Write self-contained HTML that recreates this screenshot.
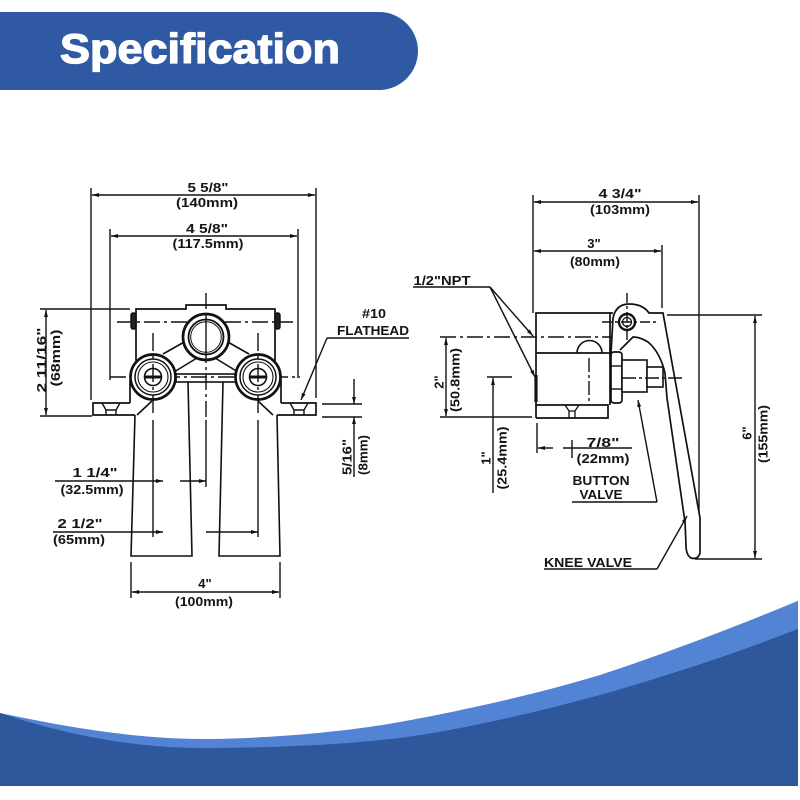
<!DOCTYPE html>
<html><head><meta charset="utf-8"><style>
html,body{margin:0;padding:0;background:#fff;}
svg{display:block;}
text{font-family:"Liberation Sans",Arial,sans-serif;font-weight:bold;fill:#141414;}
</style></head><body>
<svg width="800" height="800" viewBox="0 0 800 800" xmlns="http://www.w3.org/2000/svg">
<defs>
<marker id="a" viewBox="0 0 10 10" refX="10" refY="5" markerWidth="7" markerHeight="7" orient="auto-start-reverse" markerUnits="userSpaceOnUse"><path d="M0,2.2 L10,5 L0,7.8z" fill="#111"/></marker>
</defs>
<rect width="800" height="800" fill="#fff"/>

<!-- Header -->
<path d="M0,12 H379 A39,39 0 0 1 379,90 H0 Z" fill="#2f59a2"/>
<text x="60" y="63" font-size="42" textLength="280" lengthAdjust="spacingAndGlyphs" style="fill:#fff;stroke:#fff;stroke-width:1.3">Specification</text>

<!-- Bottom wave -->
<path d="M0,713 C70,728 140,739 200,739 C260,739 340,733 400,722 C460,711 530,696 600,675 C670,652 740,625 800,600 L800,786 L0,786 Z" fill="#5283d5"/>
<path d="M0,713 C60,733 130,748 200,748 C270,748 340,745 400,738 C460,730 530,714 600,695 C670,675 740,652 800,628 L800,786 L0,786 Z" fill="#2f579c"/>
<rect x="798" y="590" width="2" height="210" fill="#fff"/>

<!-- LEFT DRAWING -->
<g stroke="#111" fill="none" stroke-width="1.4">
  <!-- 5 5/8 -->
  <line x1="91" y1="188" x2="91" y2="400"/>
  <line x1="316" y1="188" x2="316" y2="398"/>
  <line x1="92" y1="195" x2="315" y2="195" marker-start="url(#a)" marker-end="url(#a)"/>
  <!-- 4 5/8 -->
  <line x1="110" y1="229" x2="110" y2="380"/>
  <line x1="298" y1="229" x2="298" y2="378"/>
  <line x1="111" y1="236" x2="297" y2="236" marker-start="url(#a)" marker-end="url(#a)"/>
  <!-- 2 11/16 -->
  <line x1="40" y1="309" x2="130" y2="309"/>
  <line x1="40" y1="416" x2="92" y2="416"/>
  <line x1="46" y1="310" x2="46" y2="415" marker-start="url(#a)" marker-end="url(#a)"/>

  <!-- body top -->
  <path d="M136,362 V309 H186 V305 H226 V309 H275 V362" stroke-width="1.7"/>
  <line x1="117" y1="322" x2="293" y2="322" stroke-dasharray="16 4 3 4"/>
  <line x1="206" y1="293" x2="206" y2="420" stroke-dasharray="16 4 3 4"/>
  <line x1="206" y1="420" x2="206" y2="487"/>

  <!-- webs -->
  <line x1="163" y1="354" x2="186" y2="341" stroke-width="1.6"/>
  <line x1="249" y1="354" x2="226" y2="341" stroke-width="1.6"/>
  <line x1="174" y1="372" x2="197" y2="358" stroke-width="1.6"/>
  <line x1="238" y1="372" x2="215" y2="358" stroke-width="1.6"/>
  <rect x="176" y="374" width="60" height="8" stroke-width="1.6"/>

  <!-- dash-dot across lower circles -->
  <line x1="110" y1="377" x2="300" y2="377" stroke-dasharray="16 4 3 4"/>

  <!-- lower body & base -->
  <line x1="130" y1="380" x2="130" y2="403" stroke-width="1.7"/>
  <line x1="281" y1="380" x2="281" y2="403" stroke-width="1.7"/>
  <path d="M130,403 H93 V415 H135" stroke-width="1.7"/>
  <path d="M281,403 H316 V415 H277" stroke-width="1.7"/>
  <line x1="152" y1="401" x2="137" y2="415" stroke-width="1.6"/>
  <line x1="258" y1="401" x2="273" y2="415" stroke-width="1.6"/>
  <path d="M102,403 L106,410 H116 L120,403 M106,410 V415 M116,410 V415" stroke-width="1.4"/>
  <path d="M290,403 L294,410 H304 L308,403 M294,410 V415 M304,410 V415" stroke-width="1.4"/>

  <!-- legs -->
  <path d="M135,415 L131,556 H192 L188,382" stroke-width="1.6"/>
  <path d="M223,382 L219,556 H280 L277,415" stroke-width="1.6"/>
</g>

<!-- circles -->
<g stroke="#111" fill="#fff">
  <circle cx="206" cy="337" r="23" stroke-width="2.7"/>
  <circle cx="206" cy="337" r="17.5" stroke-width="1.8"/>
  <circle cx="206" cy="337" r="15.3" stroke-width="1"/>
  <circle cx="153" cy="377" r="22.5" stroke-width="2.7"/>
  <circle cx="153" cy="377" r="18" stroke-width="1.5"/>
  <circle cx="153" cy="377" r="15" stroke-width="1.1"/>
  <circle cx="153" cy="377" r="8.5" stroke-width="1.6"/>
  <circle cx="258" cy="377" r="22.5" stroke-width="2.7"/>
  <circle cx="258" cy="377" r="18" stroke-width="1.5"/>
  <circle cx="258" cy="377" r="15" stroke-width="1.1"/>
  <circle cx="258" cy="377" r="8.5" stroke-width="1.6"/>
</g>
<g stroke="#111" fill="none" stroke-width="1.4">
  <line x1="206" y1="314" x2="206" y2="360"/>
  <line x1="145" y1="377" x2="162" y2="377" stroke-width="3"/>
  <line x1="250" y1="377" x2="267" y2="377" stroke-width="3"/>
  <line x1="153" y1="333" x2="153" y2="418" stroke-dasharray="18 5 3 5"/>
  <line x1="153" y1="420" x2="153" y2="537"/>
  <line x1="258" y1="333" x2="258" y2="418" stroke-dasharray="18 5 3 5"/>
  <line x1="258" y1="420" x2="258" y2="537"/>
  <!-- screw heads -->
  <rect x="131" y="313" width="5" height="16" rx="2" fill="#222"/>
  <rect x="275" y="313" width="5" height="16" rx="2" fill="#222"/>

  <!-- 1 1/4 -->
  <line x1="55" y1="481" x2="163" y2="481" marker-end="url(#a)"/>
  <line x1="180" y1="481" x2="206" y2="481" marker-end="url(#a)"/>
  <!-- 2 1/2 -->
  <line x1="53" y1="532" x2="163" y2="532" marker-end="url(#a)"/>
  <line x1="206" y1="532" x2="258" y2="532" marker-end="url(#a)"/>
  <!-- 4" -->
  <line x1="131" y1="562" x2="131" y2="598"/>
  <line x1="280" y1="562" x2="280" y2="598"/>
  <line x1="132" y1="592" x2="279" y2="592" marker-start="url(#a)" marker-end="url(#a)"/>
  <!-- flathead leader -->
  <line x1="327" y1="338" x2="409" y2="338"/>
  <line x1="327" y1="338" x2="301" y2="400" marker-end="url(#a)"/>
  <!-- 5/16 -->
  <line x1="322" y1="404" x2="362" y2="404"/>
  <line x1="322" y1="417" x2="362" y2="417"/>
  <line x1="354" y1="379" x2="354" y2="404" marker-end="url(#a)"/>
  <line x1="354" y1="477" x2="354" y2="417" marker-end="url(#a)"/>
</g>

<!-- left texts -->
<g font-size="13" text-anchor="middle">
  <text x="208" y="192" textLength="41" lengthAdjust="spacingAndGlyphs">5 5/8"</text>
  <text x="207" y="207" textLength="62" lengthAdjust="spacingAndGlyphs">(140mm)</text>
  <text x="207" y="233" textLength="42" lengthAdjust="spacingAndGlyphs">4 5/8"</text>
  <text x="208" y="248" textLength="71" lengthAdjust="spacingAndGlyphs">(117.5mm)</text>
  <text transform="translate(41.5,360) rotate(-90)" dy="0.35em" textLength="65" lengthAdjust="spacingAndGlyphs">2 11/16"</text>
  <text transform="translate(55.5,358) rotate(-90)" dy="0.35em" textLength="57" lengthAdjust="spacingAndGlyphs">(68mm)</text>
  <text x="374" y="318" textLength="24" lengthAdjust="spacingAndGlyphs">#10</text>
  <text x="373" y="335" textLength="72" lengthAdjust="spacingAndGlyphs">FLATHEAD</text>
  <text transform="translate(347,457) rotate(-90)" dy="0.35em" textLength="36" lengthAdjust="spacingAndGlyphs">5/16"</text>
  <text transform="translate(363,455) rotate(-90)" dy="0.35em" textLength="40" lengthAdjust="spacingAndGlyphs">(8mm)</text>
  <text x="95" y="477" textLength="45" lengthAdjust="spacingAndGlyphs">1 1/4"</text>
  <text x="92" y="494" textLength="63" lengthAdjust="spacingAndGlyphs">(32.5mm)</text>
  <text x="80" y="528" textLength="45" lengthAdjust="spacingAndGlyphs">2 1/2"</text>
  <text x="79" y="544" textLength="52" lengthAdjust="spacingAndGlyphs">(65mm)</text>
  <text x="205" y="588">4"</text>
  <text x="204" y="606" textLength="58" lengthAdjust="spacingAndGlyphs">(100mm)</text>
</g>

<!-- RIGHT DRAWING -->
<g stroke="#111" fill="none" stroke-width="1.4">
  <!-- 4 3/4 -->
  <line x1="533" y1="195" x2="533" y2="313"/>
  <line x1="699" y1="195" x2="699" y2="517"/>
  <line x1="534" y1="202" x2="698" y2="202" marker-start="url(#a)" marker-end="url(#a)"/>
  <!-- 3" -->
  <line x1="662" y1="245" x2="662" y2="308"/>
  <line x1="534" y1="251" x2="661" y2="251" marker-start="url(#a)" marker-end="url(#a)"/>
  <!-- NPT leader -->
  <line x1="413" y1="287" x2="490" y2="287"/>
  <line x1="490" y1="287" x2="533" y2="336" marker-end="url(#a)"/>
  <line x1="490" y1="287" x2="535" y2="377" marker-end="url(#a)"/>

  <!-- body -->
  <path d="M536,418 V313 H613 M610,313 V405" stroke-width="1.7"/>
  <line x1="536" y1="353" x2="610" y2="353" stroke-width="1.7"/>
  <path d="M536,405 H608 V418 H536" stroke-width="1.7"/>
  <path d="M577,353 A12.5,12.5 0 0 1 602,353" stroke-width="1.6"/>
  <path d="M565,405 L569,411 H575 L579,405 M569,411 V418 M575,411 V418" stroke-width="1.3"/>
  <line x1="440" y1="337" x2="613" y2="337" stroke-dasharray="16 4 3 4"/>
  <line x1="589" y1="358" x2="589" y2="403" stroke-dasharray="14 3 3 3"/>
  <line x1="536" y1="375" x2="536" y2="402" stroke-width="3.2"/>

  <!-- lever -->
  <path d="M611,353 L613,318 Q616,304 629,304 Q643,304 649,313 L663,313 L700,518 L700,553 Q698,560 691,558 Q686,555 686,545 L685,522 L667,398 L665,373 Q660,352 648,342 Q640,337 633,337 L620,350" stroke-width="1.7" fill="#fff"/>
  <circle cx="627" cy="322" r="8" stroke-width="2.4" fill="#fff"/>
  <circle cx="627" cy="322" r="4.5" stroke-width="1.3"/>
  <line x1="602" y1="322" x2="657" y2="322" stroke-dasharray="10 3 3 3"/>
  <line x1="627" y1="293" x2="627" y2="340" stroke-dasharray="10 3 3 3"/>

  <!-- nut & shaft -->
  <rect x="611" y="352" width="11" height="51" rx="3" stroke-width="1.7" fill="#fff"/>
  <line x1="611" y1="366" x2="622" y2="366"/>
  <line x1="611" y1="389" x2="622" y2="389"/>
  <rect x="622" y="360" width="25" height="32" stroke-width="1.6" fill="#fff"/>
  <rect x="647" y="367" width="16" height="20" stroke-width="1.6" fill="#fff"/>
  <line x1="622" y1="378" x2="683" y2="378" stroke-dasharray="14 3 3 3"/>

  <!-- 2" -->
  <line x1="440" y1="417" x2="532" y2="417"/>
  <line x1="446" y1="338" x2="446" y2="416" marker-start="url(#a)" marker-end="url(#a)"/>
  <!-- 1" -->
  <line x1="487" y1="377" x2="512" y2="377"/>
  <line x1="493" y1="378" x2="493" y2="493" marker-start="url(#a)"/>
  <!-- 7/8 -->
  <line x1="537" y1="423" x2="537" y2="453"/>
  <line x1="553" y1="448" x2="538" y2="448" marker-end="url(#a)"/>
  <line x1="563" y1="448" x2="632" y2="448"/>
  <line x1="572" y1="440" x2="572" y2="458"/>
  <!-- button valve -->
  <line x1="572" y1="502" x2="657" y2="502"/>
  <line x1="657" y1="502" x2="638" y2="400" marker-end="url(#a)"/>
  <!-- knee valve -->
  <line x1="544" y1="569" x2="657" y2="569"/>
  <line x1="657" y1="569" x2="687" y2="516" marker-end="url(#a)"/>
  <!-- 6" -->
  <line x1="667" y1="315" x2="762" y2="315"/>
  <line x1="695" y1="559" x2="762" y2="559"/>
  <line x1="755" y1="316" x2="755" y2="558" marker-start="url(#a)" marker-end="url(#a)"/>
</g>

<!-- right texts -->
<g font-size="13" text-anchor="middle">
  <text x="620" y="198" textLength="43" lengthAdjust="spacingAndGlyphs">4 3/4"</text>
  <text x="620" y="214" textLength="60" lengthAdjust="spacingAndGlyphs">(103mm)</text>
  <text x="594" y="248">3"</text>
  <text x="595" y="266" textLength="50" lengthAdjust="spacingAndGlyphs">(80mm)</text>
  <text x="442" y="285" textLength="57" lengthAdjust="spacingAndGlyphs">1/2"NPT</text>
  <text transform="translate(439,382) rotate(-90)" dy="0.35em">2"</text>
  <text transform="translate(455,380) rotate(-90)" dy="0.35em" textLength="64" lengthAdjust="spacingAndGlyphs">(50.8mm)</text>
  <text transform="translate(486,458) rotate(-90)" dy="0.35em">1"</text>
  <text transform="translate(502,458) rotate(-90)" dy="0.35em" textLength="63" lengthAdjust="spacingAndGlyphs">(25.4mm)</text>
  <text x="603" y="447" textLength="33" lengthAdjust="spacingAndGlyphs">7/8"</text>
  <text x="603" y="463" textLength="53" lengthAdjust="spacingAndGlyphs">(22mm)</text>
  <text x="601" y="485" textLength="57" lengthAdjust="spacingAndGlyphs">BUTTON</text>
  <text x="601" y="499" textLength="43" lengthAdjust="spacingAndGlyphs">VALVE</text>
  <text x="588" y="567" textLength="88" lengthAdjust="spacingAndGlyphs">KNEE VALVE</text>
  <text transform="translate(747,433) rotate(-90)" dy="0.35em">6"</text>
  <text transform="translate(763,434) rotate(-90)" dy="0.35em" textLength="58" lengthAdjust="spacingAndGlyphs">(155mm)</text>
</g>
</svg>
</body></html>
